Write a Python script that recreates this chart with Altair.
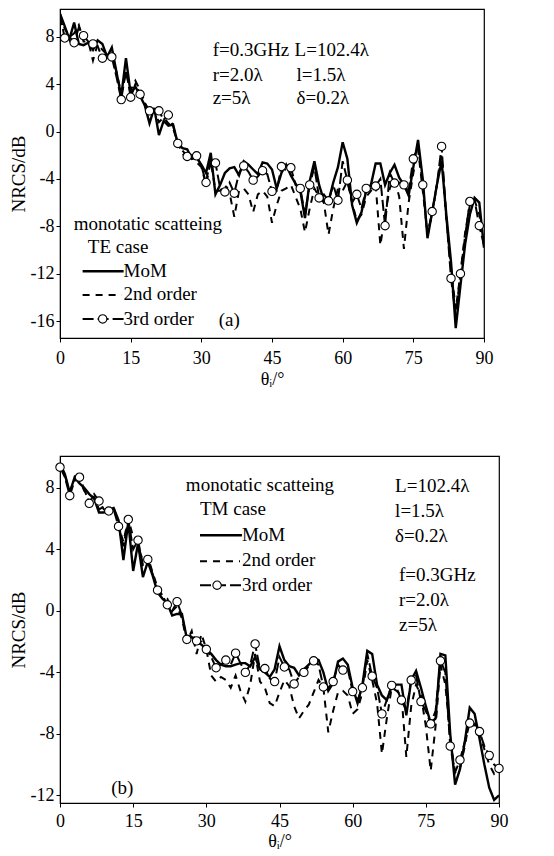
import altair as alt
import pandas as pd

theta = list(range(91))

# ---- panel (a): TE case ----
te_mom = [9.95, 8.9, 7.8, 9.2, 7.4, 7.3, 7.5, 6.9, 7.7, 7.4,
          6.3, 7.1, 5.0, 3.0, 6.2, 3.2, 3.8, 3.0, 2.2, 0.7,
          2.0, -0.3, 0.9, 0.5, 0.6, -1.0, -1.4, -1.5, -2.3, -2.2,
          -2.8, -3.5, -1.8, -5.3, -4.5, -3.5, -3.1, -3.0, -3.7, -2.5,
          -2.8, -3.2, -3.6, -2.6, -2.7, -3.2, -4.8, -3.5, -2.8, -3.7,
          -4.4, -5.0, -7.3, -4.2, -2.5, -4.5, -5.8, -5.9, -4.3, -3.0,
          -0.9, -2.3, -6.2, -7.7, -6.8, -5.0, -4.5, -2.7, -2.7, -4.5,
          -3.5, -2.8, -3.9, -4.5, -5.4, -3.0, -0.7, -4.0, -9.0, -6.8,
          -4.5, -2.5, -7.0, -11.0, -16.6, -13.0, -9.5, -7.0, -5.6, -6.0,
          -9.8]
te_2nd = [9.9, 8.7, 8.0, 8.3, 9.0, 7.6, 7.6, 6.0, 7.4, 6.9,
          6.5, 6.5, 5.0, 3.2, 5.0, 3.5, 4.3, 3.5, 2.5, 1.5,
          1.8, 0.8, 1.2, 0.7, 0.3, -1.0, -1.8, -2.5, -2.0, -2.6,
          -3.0, -4.5, -2.5, -5.0, -5.0, -4.5, -5.2, -7.2, -5.0, -4.8,
          -5.3, -6.8, -5.3, -5.0, -5.5, -7.7, -6.2, -5.0, -4.8, -4.5,
          -5.5, -6.5, -8.5, -6.5, -4.8, -5.5, -6.0, -8.7, -6.5, -4.8,
          -5.0, -4.2, -6.0, -7.5, -7.0, -5.5, -5.0, -4.5, -9.6, -7.0,
          -4.8, -4.0, -5.5, -9.9, -6.0, -3.5, -1.5, -5.0, -8.5, -7.0,
          -4.5, -2.0, -7.5, -11.5, -15.0, -12.0, -8.5, -6.2, -5.8, -7.0,
          -9.5]
te_3rd = [9.9, 7.9, 8.0, 7.5, 8.8, 8.1, 7.6, 7.4, 7.2, 6.2,
          6.5, 6.3, 4.6, 2.7, 5.2, 2.9, 4.0, 3.15, 2.4, 1.75,
          1.9, 1.75, 1.0, 1.4, 0.5, -1.0, -1.6, -2.1, -2.2, -2.05,
          -2.9, -4.3, -2.2, -2.65, -4.8, -5.1, -4.3, -5.2, -3.5, -2.9,
          -3.4, -4.1, -3.8, -3.3, -3.6, -5.05, -5.0, -2.95, -3.3, -3.05,
          -4.5, -4.8, -7.0, -4.5, -3.0, -5.6, -5.3, -5.85, -4.5, -5.8,
          -2.5, -4.1, -6.0, -5.3, -6.5, -4.8, -4.8, -4.6, -4.0, -7.95,
          -3.5, -4.35, -4.3, -4.5, -5.0, -2.3, -1.2, -4.5, -8.8, -6.75,
          -4.5, -1.25, -7.2, -12.4, -15.5, -12.0, -8.8, -5.9, -5.8, -7.95,
          -9.6]

# ---- panel (b): TM case ----
tm_mom = [9.6, 8.9, 7.7, 8.7, 8.3, 8.0, 7.6, 7.3, 6.4, 6.4,
          6.6, 6.7, 5.9, 3.3, 5.8, 2.6, 4.4, 2.2, 3.2, 2.3,
          1.2, 0.8, 0.5, -0.3, -0.2, -0.2, -1.8, -1.7, -2.0, -2.2,
          -2.5, -2.8, -3.2, -3.5, -3.6, -3.6, -3.5, -3.4, -3.4, -3.6,
          -3.0, -3.8, -4.0, -4.3, -3.8, -2.3, -3.2, -3.6, -3.7, -4.2,
          -3.8, -3.5, -3.1, -3.2, -4.0, -5.2, -4.7, -3.3, -3.1, -3.5,
          -5.0, -6.0, -4.8, -2.6, -2.8, -4.8, -5.5, -5.8, -4.9, -4.8,
          -4.8, -6.8, -4.5, -3.9, -5.0, -6.2, -7.3, -7.0, -2.8, -2.9,
          -8.0, -11.3, -10.3, -8.5, -6.3, -6.7, -8.3, -10.0, -11.5, -12.3,
          -12.0]
tm_2nd = [9.5, 8.8, 7.8, 8.5, 8.5, 7.8, 7.5, 7.4, 6.6, 6.8,
          6.5, 6.8, 5.5, 4.5, 6.0, 4.8, 4.3, 3.2, 3.5, 2.5,
          1.5, 1.0, 0.8, 0.0, 0.3, -0.5, -2.0, -1.3, -2.8, -1.5,
          -2.5, -4.2, -4.6, -4.3, -4.5, -5.0, -4.2, -5.2, -5.9, -4.8,
          -2.8, -4.6, -5.0, -6.0, -6.2, -5.3, -4.5, -4.9, -6.2, -7.0,
          -6.5, -6.1, -5.3, -4.5, -5.0, -7.9, -6.5, -5.3, -5.2, -5.5,
          -6.7, -6.4, -5.3, -3.2, -4.5, -6.0, -9.3, -7.0, -5.0, -5.2,
          -5.5, -9.5, -6.2, -4.8, -5.5, -7.5, -10.4, -7.5, -3.5, -4.8,
          -8.3, -10.5, -10.2, -8.8, -7.0, -7.5, -8.0, -9.0, -10.0, -10.6,
          -10.3]
tm_3rd = [9.35, 8.7, 7.5, 8.5, 8.7, 7.9, 7.0, 7.6, 7.15, 6.6,
          6.5, 6.6, 5.5, 4.2, 5.95, 4.0, 4.6, 3.0, 3.35, 2.4,
          1.35, 1.0, 0.4, 0.0, 0.6, -0.3, -1.85, -1.5, -1.95, -2.0,
          -2.5, -3.0, -3.7, -3.5, -3.2, -3.5, -2.75, -3.4, -4.0, -3.5,
          -2.15, -3.8, -3.75, -4.4, -4.6, -3.0, -3.65, -3.8, -4.75, -4.3,
          -4.0, -3.6, -3.25, -3.5, -4.95, -5.0, -4.6, -3.5, -3.85, -3.8,
          -5.25, -5.8, -5.0, -2.8, -4.25, -5.0, -6.7, -5.8, -4.85, -5.0,
          -5.8, -6.5, -4.5, -4.2, -5.9, -6.5, -7.35, -6.5, -3.25, -4.0,
          -8.8, -10.5, -9.7, -8.5, -7.3, -7.3, -7.85, -8.8, -9.4, -10.0,
          -10.25]

series_names = ["MoM", "2nd order", "3rd order"]
x_ticks = [0, 7.5, 15, 22.5, 30, 37.5, 45, 52.5, 60, 67.5, 75, 82.5, 90]

# annotations (text, theta, value)
a_text = ["f=0.3GHz", "L=102.4λ", "r=2.0λ", "l=1.5λ", "z=5λ", "δ=0.2λ",
          "monotatic scatteing", "TE case", "MoM", "2nd order", "3rd order", "(a)"]
a_tx = [32.4, 49.8, 32.4, 50.2, 32.4, 50.2, 2.9, 5.9, 13.5, 13.5, 13.5, 33.7]
a_ty = [6.39, 6.39, 4.28, 4.28, 2.34, 2.34, -8.3, -10.25, -12.3, -14.2, -16.3, -16.4]
a_leg_x1 = [4.8, 4.8, 4.8]
a_leg_x2 = [13.5, 13.1, 13.5]
a_leg_y = [-11.8, -13.8, -15.82]
a_leg_circ = [9.06, -15.82]

b_text = ["monotatic scatteing", "TM case", "MoM", "2nd order", "3rd order",
          "L=102.4λ", "l=1.5λ", "δ=0.2λ", "f=0.3GHz", "r=2.0λ", "z=5λ", "(b)"]
b_tx = [25.8, 28.7, 37.3, 37.3, 37.3, 68.7, 68.7, 68.7, 69.5, 69.5, 69.5, 10.5]
b_ty = [7.78, 6.22, 4.53, 2.91, 1.28, 7.72, 6.09, 4.47, 1.93, 0.31, -1.32, -11.92]
b_leg_x1 = [28.7, 28.7, 28.7]
b_leg_x2 = [37.3, 36.9, 37.3]
b_leg_y = [4.92, 3.23, 1.67]
b_leg_circ = [32.2, 1.67]

FONT = "Liberation Serif"


def panel(mom, second, third, parity, ydom, yvals, w, h, txt, tx, ty,
          lx1, lx2, ly, lcirc, label_pad, title_pad):
    df = pd.DataFrame({"theta": theta, "mom": mom, "second": second, "third": third})
    xenc = alt.X("theta:Q", scale=alt.Scale(domain=[0, 90], nice=False),
                 axis=alt.Axis(values=x_ticks, title="θᵢ/°", labelFlush=False,
                               labelExpr="datum.value % 15 == 0 ? '' + datum.value : ''",
                               labelPadding=label_pad, titlePadding=title_pad,
                               titleFontSize=18))
    yscale = alt.Scale(domain=ydom, nice=False, zero=False)
    yaxis = alt.Axis(values=yvals, title="NRCS/dB", titlePadding=2,
                     labelExpr="datum.value % 4 == 0 ? '' + datum.value : ''")

    def Y(field):
        return alt.Y(field + ":Q", scale=yscale, axis=yaxis)

    base = alt.Chart(df)
    l2 = base.mark_line(color="black", strokeWidth=2, strokeDash=[7, 6], clip=True).encode(x=xenc, y=Y("second"))
    l3 = base.mark_line(color="black", strokeWidth=2, strokeDash=[11, 4], clip=True).encode(x=xenc, y=Y("third"))
    lm = base.mark_line(color="black", strokeWidth=2.4, clip=True).encode(x=xenc, y=Y("mom"))
    pts = base.transform_filter(f"datum.theta % 2 == {parity}").mark_point(
        shape="circle", filled=True, fill="white", stroke="black", strokeWidth=1.1,
        size=70, opacity=1).encode(x=xenc, y=Y("third"))

    tdf = pd.DataFrame({"t": txt, "x": tx, "y": ty})
    texts = alt.Chart(tdf).mark_text(align="left", baseline="alphabetic", font=FONT,
                                     fontSize=19, color="black").encode(
        x=alt.X("x:Q", scale=alt.Scale(domain=[0, 90], nice=False)),
        y=alt.Y("y:Q", scale=yscale), text="t:N")

    ldf = pd.DataFrame({"name": series_names, "x1": lx1, "x2": lx2, "y": ly})
    legx = alt.X("x1:Q", scale=alt.Scale(domain=[0, 90], nice=False))
    legx2 = alt.X2("x2:Q")
    legy = alt.Y("y:Q", scale=yscale)
    leg_m = alt.Chart(ldf).transform_filter("datum.name == 'MoM'").mark_rule(
        color="black", strokeWidth=2.4).encode(x=legx, x2=legx2, y=legy)
    leg_2 = alt.Chart(ldf).transform_filter("datum.name == '2nd order'").mark_rule(
        color="black", strokeWidth=2, strokeDash=[7, 6]).encode(x=legx, x2=legx2, y=legy)
    leg_3 = alt.Chart(ldf).transform_filter("datum.name == '3rd order'").mark_rule(
        color="black", strokeWidth=2, strokeDash=[11, 4]).encode(x=legx, x2=legx2, y=legy)
    cdf = pd.DataFrame({"x": [lcirc[0]], "y": [lcirc[1]]})
    leg_c = alt.Chart(cdf).mark_point(shape="circle", filled=True, fill="white",
                                      stroke="black", strokeWidth=1.1, size=70, opacity=1).encode(
        x=alt.X("x:Q", scale=alt.Scale(domain=[0, 90], nice=False)),
        y=alt.Y("y:Q", scale=yscale))

    return alt.layer(l2, l3, lm, pts, texts, leg_m, leg_2, leg_3, leg_c).properties(width=w, height=h)


pa = panel(te_mom, te_2nd, te_3rd, 1, [-17.43, 10.35], list(range(-16, 11, 2)), 424, 329,
           a_text, a_tx, a_ty, a_leg_x1, a_leg_x2, a_leg_y, a_leg_circ, 7, 3)
pb = panel(tm_mom, tm_2nd, tm_3rd, 0, [-12.5, 10.08], list(range(-12, 11, 2)), 439, 347,
           b_text, b_tx, b_ty, b_leg_x1, b_leg_x2, b_leg_y, b_leg_circ, 5, 2)

chart = alt.vconcat(pa, pb, spacing=66).properties(
    padding={"left": 0, "top": 0, "right": 2, "bottom": 0}
).configure_view(stroke="black", strokeWidth=1.2).configure_axis(
    labelFont=FONT, labelFontSize=18, labelColor="black",
    titleFont=FONT, titleFontSize=19, titleFontWeight="normal", titleColor="black",
    domainColor="black", tickColor="black", tickSize=4, grid=False
)

chart.save("out.html", embed_options={"renderer": "svg", "actions": False})
